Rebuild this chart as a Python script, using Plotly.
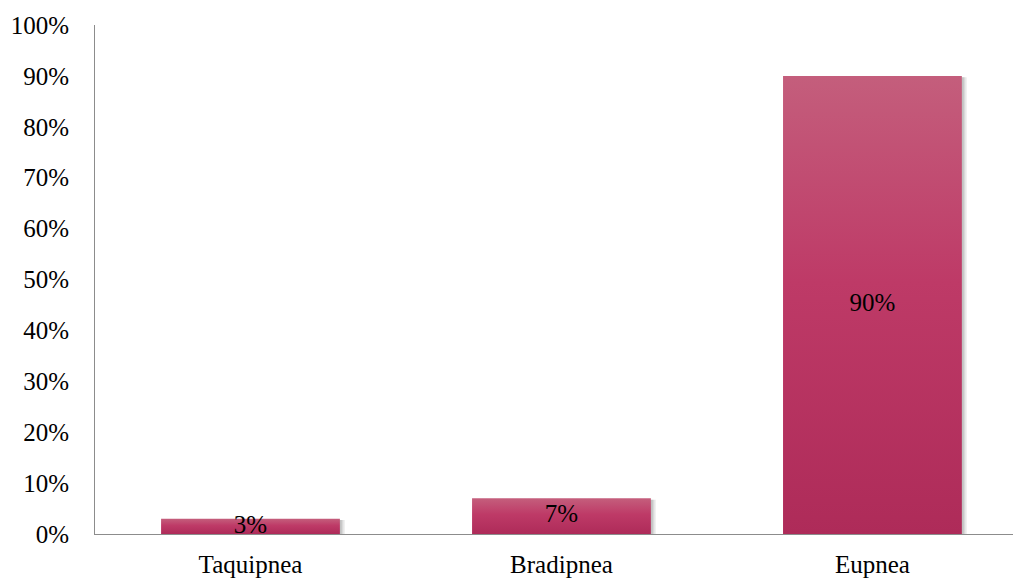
import plotly.graph_objects as go

# Respiratory pattern distribution (percent of patients)
categories = ["Taquipnea", "Bradipnea", "Eupnea"]
values = [3, 7, 90]
y_ticks = [0, 10, 20, 30, 40, 50, 60, 70, 80, 90, 100]
y_tick_labels = [f"{t}%" for t in y_ticks]

BAR_WIDTH = 0.575
FONT = "Liberation Serif"
FONT_SIZE = 25
TOP_COLOR = "#C45E7C"
MID_COLOR = "#BE3A67"
BOTTOM_COLOR = "#AE2B59"

fig = go.Figure()

# Soft drop shadow behind each bar (a few faint offset layers)
for i, v in enumerate(values):
    for dx, alpha in [(0.016, 0.10), (0.011, 0.14), (0.006, 0.18)]:
        x0, x1 = i - BAR_WIDTH / 2 + dx, i + BAR_WIDTH / 2 + dx
        top = v - 0.25
        fig.add_trace(go.Scatter(
            x=[x0, x1, x1, x0, x0], y=[0, 0, top, top, 0],
            fill="toself", fillcolor=f"rgba(90,90,90,{alpha})",
            line=dict(width=0), mode="lines",
            hoverinfo="skip", showlegend=False,
        ))

# Bars with a vertical gradient, light at the top and darker at the base
for i, (cat, v) in enumerate(zip(categories, values)):
    x0, x1 = i - BAR_WIDTH / 2, i + BAR_WIDTH / 2
    fig.add_trace(go.Scatter(
        x=[x0, x1, x1, x0, x0], y=[0, 0, v, v, 0],
        fill="toself",
        fillgradient=dict(
            type="vertical",
            colorscale=[[0, BOTTOM_COLOR], [0.55, MID_COLOR], [1, TOP_COLOR]],
        ),
        line=dict(width=0), mode="lines",
        name=cat, hovertemplate=f"{cat}: {v}%<extra></extra>",
        showlegend=False,
    ))

# Value labels centred inside each bar
fig.add_trace(go.Scatter(
    x=list(range(len(categories))), y=[v / 2 for v in values],
    mode="text", text=[f"{v}%" for v in values],
    textposition="middle center",
    textfont=dict(family=FONT, size=FONT_SIZE, color="#000000"),
    hoverinfo="skip", showlegend=False, cliponaxis=False,
))

fig.update_layout(
    width=1013, height=580,
    margin=dict(l=95, r=0, t=25, b=46),
    paper_bgcolor="white", plot_bgcolor="white",
    font=dict(family=FONT, size=FONT_SIZE, color="#000000"),
    xaxis=dict(
        tickmode="array",
        tickvals=list(range(len(categories))),
        ticktext=categories,
        range=[-0.5, 2.452],
        showline=True, linecolor="#8C8C8C", linewidth=1,
        showgrid=False, zeroline=False, ticks="",
        ticklabelstandoff=8,
        tickfont=dict(family=FONT, size=FONT_SIZE, color="#000000"),
        fixedrange=True,
    ),
    yaxis=dict(
        range=[0, 100],
        tickmode="array",
        tickvals=y_ticks,
        ticktext=y_tick_labels,
        showline=True, linecolor="#8C8C8C", linewidth=1,
        showgrid=False, zeroline=False, ticks="",
        ticklabelstandoff=20,
        tickfont=dict(family=FONT, size=FONT_SIZE, color="#000000"),
        fixedrange=True,
    ),
)

fig.write_html("out.html")
